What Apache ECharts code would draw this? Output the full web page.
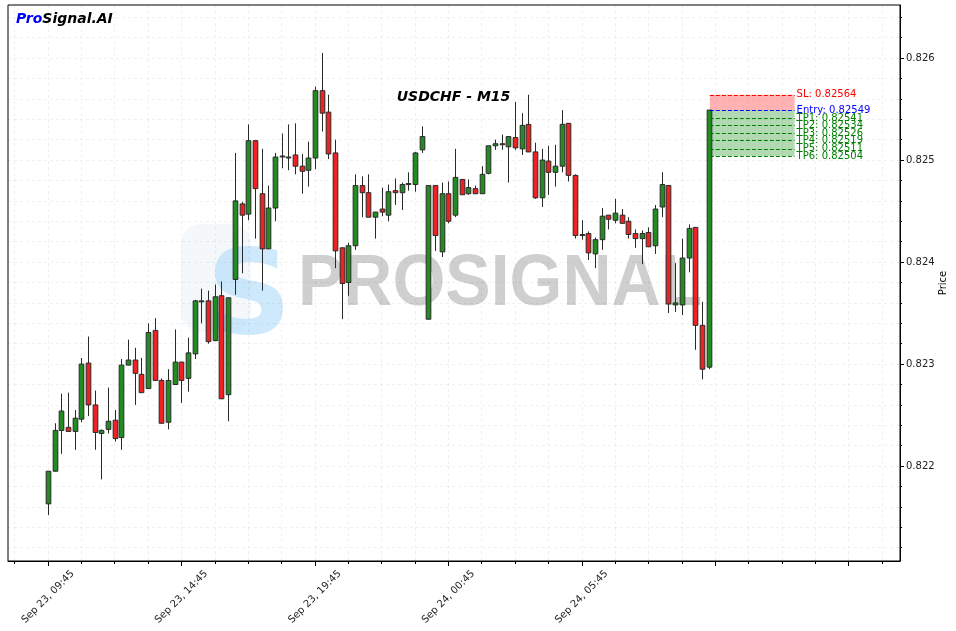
<!DOCTYPE html>
<html><head><meta charset="utf-8">
<script src="https://cdn.jsdelivr.net/npm/echarts@6/dist/echarts.min.js"></script>
<style>html,body{margin:0;padding:0;background:#fff}#c{width:956px;height:631px}</style>
</head><body><div id="c"></div>
<script>
// ---- Data (USDCHF M15, 15-minute candles starting Sep 23 09:45) ----
const opens = [
0.82163,0.82195,0.82235,0.82238,0.82234,0.82246,0.82301,0.82260,0.82232,0.82236,
0.82245,0.82228,0.82299,0.82304,0.82290,0.82276,0.82333,0.82284,0.82243,0.82280,
0.82302,0.82286,0.82310,0.82362,0.82362,0.82323,0.82367,0.82270,0.82383,0.82457,
0.82447,0.82519,0.82467,0.82413,0.82453,0.82504,0.82503,0.82505,0.82494,0.82490,
0.82502,0.82568,0.82547,0.82507,0.82414,0.82380,0.82416,0.82475,0.82468,0.82444,
0.82452,0.82446,0.82470,0.82468,0.82477,0.82476,0.82510,0.82344,0.82475,0.82410,
0.82467,0.82446,0.82481,0.82467,0.82472,0.82467,0.82487,0.82514,0.82516,0.82513,
0.82522,0.82511,0.82535,0.82508,0.82463,0.82499,0.82488,0.82494,0.82536,0.82485,
0.82427,0.82428,0.82408,0.82422,0.82446,0.82441,0.82446,0.82440,0.82428,0.82423,
0.82429,0.82416,0.82454,0.82475,0.82358,0.82358,0.82404,0.82434,0.82338,0.82297];
const closes = [
0.82195,0.82235,0.82254,0.82234,0.82247,0.82300,0.82260,0.82233,0.82235,0.82244,
0.82227,0.82299,0.82304,0.82291,0.82272,0.82331,0.82284,0.82242,0.82284,0.82302,
0.82284,0.82311,0.82362,0.82362,0.82322,0.82366,0.82266,0.82365,0.82460,0.82446,
0.82519,0.82472,0.82413,0.82453,0.82503,0.82504,0.82503,0.82494,0.82489,0.82502,
0.82568,0.82546,0.82506,0.82411,0.82379,0.82416,0.82475,0.82468,0.82444,0.82449,
0.82449,0.82469,0.82468,0.82476,0.82476,0.82507,0.82523,0.82475,0.82426,0.82467,
0.82440,0.82483,0.82466,0.82473,0.82467,0.82486,0.82514,0.82516,0.82515,0.82523,
0.82512,0.82534,0.82508,0.82463,0.82500,0.82488,0.82494,0.82535,0.82485,0.82426,
0.82427,0.82409,0.82422,0.82445,0.82442,0.82448,0.82438,0.82427,0.82423,0.82428,
0.82415,0.82452,0.82476,0.82359,0.82360,0.82404,0.82433,0.82338,0.82295,0.82549];
const highs = [
0.82195,0.82242,0.82271,0.82272,0.82255,0.82306,0.82327,0.82274,0.82236,0.82277,
0.82255,0.82305,0.82324,0.82316,0.82306,0.82340,0.82345,0.82286,0.82295,0.82334,
0.82302,0.82326,0.82363,0.82374,0.82372,0.82378,0.82381,0.82365,0.82507,0.82459,
0.82535,0.82519,0.82511,0.82475,0.82507,0.82526,0.82535,0.82536,0.82506,0.82518,
0.82572,0.82605,0.82564,0.82520,0.82414,0.82419,0.82486,0.82484,0.82486,0.82449,
0.82473,0.82476,0.82482,0.82478,0.82488,0.82508,0.82533,0.82475,0.82475,0.82478,
0.82479,0.82511,0.82481,0.82481,0.82475,0.82494,0.82514,0.82520,0.82525,0.82523,
0.82557,0.82546,0.82564,0.82517,0.82511,0.82514,0.82515,0.82549,0.82536,0.82486,
0.82441,0.82430,0.82424,0.82453,0.82446,0.82462,0.82452,0.82444,0.82432,0.82431,
0.82434,0.82456,0.82488,0.82475,0.82399,0.82423,0.82437,0.82434,0.82361,0.82549];
const lows = [
0.82152,0.82195,0.82212,0.82234,0.82216,0.82243,0.82249,0.82216,0.82187,0.82232,
0.82224,0.82216,0.82299,0.82260,0.82272,0.82276,0.82284,0.82242,0.82236,0.82280,
0.82262,0.82273,0.82305,0.82340,0.82320,0.82323,0.82266,0.82244,0.82368,0.82389,
0.82441,0.82423,0.82372,0.82413,0.82440,0.82492,0.82490,0.82486,0.82467,0.82474,
0.82491,0.82528,0.82501,0.82394,0.82344,0.82367,0.82412,0.82444,0.82444,0.82423,
0.82445,0.82440,0.82456,0.82451,0.82470,0.82469,0.82507,0.82344,0.82411,0.82405,
0.82438,0.82444,0.82466,0.82466,0.82467,0.82467,0.82486,0.82510,0.82510,0.82478,
0.82510,0.82505,0.82508,0.82462,0.82454,0.82466,0.82474,0.82488,0.82479,0.82423,
0.82422,0.82402,0.82394,0.82412,0.82432,0.82438,0.82438,0.82423,0.82414,0.82398,
0.82415,0.82408,0.82444,0.82350,0.82351,0.82348,0.82390,0.82314,0.82285,0.82295];

const tickIndex  = [0, 20, 40, 60, 80];
const tickLabels = ["Sep 23, 09:45", "Sep 23, 14:45", "Sep 23, 19:45", "Sep 24, 00:45", "Sep 24, 05:45"];
const majorXTicks = [0, 20, 40, 60, 80, 100, 120];
const priceTicks = [0.822, 0.823, 0.824, 0.825, 0.826];

const slLevel = 0.82564;
const entryLevel = 0.82549;
const tpLevels = [0.82541, 0.82534, 0.82526, 0.82519, 0.82511, 0.82504];

// ---- derived ----
const minorXTicks = [];
for (let v = -5; v <= 125; v += 5) minorXTicks.push(v);
const minorYTicks = [];
for (let k = 4106; k <= 4132; k++) minorYTicks.push(+(k * 0.0002).toFixed(4));

const candleData = opens.map((o, i) => [i, o, closes[i], lows[i], highs[i]]);
const lastIdx = opens.length - 1;
const boxStart = lastIdx + 0.2, boxEnd = lastIdx + 12.9;

const GREEN = '#228B22', RED = '#EE2222', EDGE = '#2a2a2a';
const FONT = '"DejaVu Sans", sans-serif';

function renderCandle(params, api) {
  const x = api.value(0), o = api.value(1), c = api.value(2), l = api.value(3), h = api.value(4);
  const po = api.coord([x, o]), pc = api.coord([x, c]), pl = api.coord([x, l]), ph = api.coord([x, h]);
  const w = api.size([1, 0])[0] * 0.7;
  const top = Math.min(po[1], pc[1]), bot = Math.max(po[1], pc[1]);
  const cx = Math.round(po[0]) + 0.5;
  return {
    type: 'group',
    children: [
      { type: 'line', shape: { x1: cx, y1: ph[1], x2: cx, y2: pl[1] }, style: { stroke: EDGE, lineWidth: 1 } },
      { type: 'rect', shape: { x: cx - w / 2, y: top, width: w, height: Math.max(bot - top, 1) },
        style: { fill: c >= o ? GREEN : RED, stroke: EDGE, lineWidth: 1 } }
    ]
  };
}

const levelLines = [
  [{ coord: [boxStart, slLevel], lineStyle: { color: '#ff0000' }, label: { formatter: 'SL: ' + slLevel.toFixed(5), color: '#ff0000' } }, { coord: [boxEnd, slLevel] }],
  [{ coord: [boxStart, entryLevel], lineStyle: { color: '#0000ff' }, label: { formatter: 'Entry: ' + entryLevel.toFixed(5), color: '#0000ff' } }, { coord: [boxEnd, entryLevel] }]
].concat(tpLevels.map((v, k) => [
  { coord: [boxStart, v], lineStyle: { color: '#008000' }, label: { formatter: 'TP' + (k + 1) + ': ' + v.toFixed(5), color: '#008000' } },
  { coord: [boxEnd, v] }
]));

const chart = echarts.init(document.getElementById('c'), null, { renderer: 'canvas' });
const gridStyle = { show: true, lineStyle: { color: 'rgba(0,0,0,0.055)', type: [3, 3], width: 1 } };

chart.setOption({
  animation: false,
  backgroundColor: '#fff',
  textStyle: { fontFamily: FONT },
  grid: { left: 8, right: 56, top: 5, bottom: 70, show: true, borderColor: '#000', borderWidth: 1,
          backgroundColor: 'transparent', containLabel: false, outerBoundsMode: 'none' },
  xAxis: [
    { type: 'value', min: -6, max: 127.7, position: 'bottom',
      axisLine: { show: true, onZero: false, lineStyle: { color: '#000' } },
      axisTick: { show: true, length: 5, customValues: majorXTicks, lineStyle: { color: '#000' } },
      axisLabel: { show: true, customValues: tickIndex, rotate: 45, margin: 36, align: 'center', verticalAlign: 'middle',
        fontSize: 10, color: '#222', fontFamily: FONT,
        formatter: v => { const k = tickIndex.indexOf(Math.round(v)); return k >= 0 ? tickLabels[k] : ''; } },
      splitLine: { show: false } },
    { type: 'value', min: -6, max: 127.7, position: 'bottom',
      axisLine: { show: false, onZero: false },
      axisTick: { show: true, length: 3, customValues: minorXTicks, lineStyle: { color: '#000' } },
      axisLabel: { show: false },
      splitLine: gridStyle }
  ],
  yAxis: [
    { type: 'value', min: 0.82107, max: 0.82652, position: 'right', scale: true,
      axisLine: { show: true, onZero: false, lineStyle: { color: '#000' } },
      axisTick: { show: true, length: 4, customValues: priceTicks, lineStyle: { color: '#000' } },
      axisLabel: { show: true, customValues: priceTicks, margin: 6, fontSize: 10, color: '#222', fontFamily: FONT,
        formatter: v => v.toFixed(3) },
      splitLine: { show: false },
      name: 'Price', nameLocation: 'middle', nameRotate: 90, nameGap: 38, nameMoveOverlap: false,
      nameTextStyle: { fontSize: 10, color: '#000', fontFamily: FONT } },
    { type: 'value', min: 0.82107, max: 0.82652, position: 'right', scale: true,
      axisLine: { show: false, onZero: false },
      axisTick: { show: true, length: 2, customValues: minorYTicks, lineStyle: { color: '#000' } },
      axisLabel: { show: false },
      splitLine: gridStyle }
  ],
  graphic: [
    { type: 'rect', z: 0, shape: { x: 181, y: 224, width: 70, height: 108, r: 20 },
      style: { fill: 'rgba(215,228,240,0.25)' }, silent: true },
    { type: 'text', z: 0, x: 249, y: 302, silent: true,
      style: { text: 'S', font: 'bold 118px "DejaVu Sans"', fill: 'rgba(160,212,250,0.5)', align: 'center', verticalAlign: 'middle' } },
    { type: 'text', z: 0, x: 298, y: 306, silent: true, scaleY: 1.07, originY: 306,
      style: { text: 'PROSIGNAL', font: 'bold 68px "Liberation Sans"', fill: 'rgba(140,140,140,0.42)', align: 'left', verticalAlign: 'middle' } },
    { type: 'text', z: 10, x: 453.5, y: 97, silent: true,
      style: { text: 'USDCHF - M15', font: 'italic bold 14px "DejaVu Sans"', fill: '#000', align: 'center', verticalAlign: 'middle' } },
    { type: 'text', z: 10, x: 16, y: 19, silent: true,
      style: { text: '{a|Pro}{b|Signal.AI}', verticalAlign: 'middle', align: 'left',
        rich: { a: { fill: '#0000ff', color: '#0000ff', font: 'italic bold 14px "DejaVu Sans"' },
                b: { fill: '#000', color: '#000', font: 'italic bold 14px "DejaVu Sans"' } } } }
  ],
  series: [
    { type: 'line', data: [], xAxisIndex: 0, yAxisIndex: 0, z: 1, silent: true,
      markArea: { silent: true, z: 1,
        data: [
          [{ coord: [boxStart, slLevel], itemStyle: { color: 'rgba(255,0,0,0.3)' } }, { coord: [boxEnd, entryLevel] }],
          [{ coord: [boxStart, entryLevel], itemStyle: { color: 'rgba(0,128,0,0.3)' } }, { coord: [boxEnd, tpLevels[tpLevels.length - 1]] }]
        ] },
      markLine: { silent: true, symbol: ['none', 'none'], z: 4,
        lineStyle: { type: [4, 2], width: 1 },
        label: { show: true, position: 'end', distance: 2, fontSize: 10, fontFamily: FONT },
        data: levelLines } },
    { type: 'custom', name: 'USDCHF', xAxisIndex: 0, yAxisIndex: 0, z: 3,
      renderItem: renderCandle, encode: { x: 0, y: [1, 2, 3, 4] }, data: candleData }
  ]
});
</script>
</body></html>
